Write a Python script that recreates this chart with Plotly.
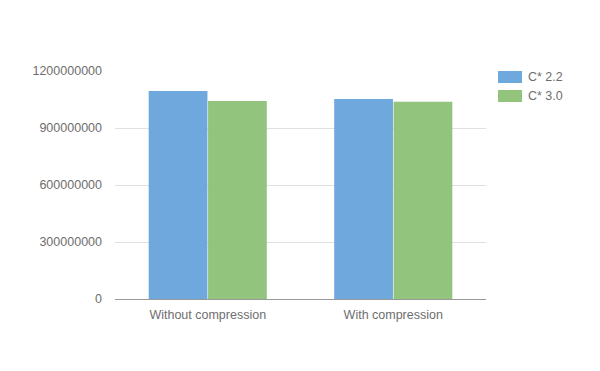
import plotly.graph_objects as go

categories = ["Without compression", "With compression"]
series_names = ["C* 2.2", "C* 3.0"]
c22 = [1095000000, 1053000000]
c30 = [1042000000, 1038000000]
colors = ["#6fa8dc", "#93c47d"]
ytick_vals = [0, 300000000, 600000000, 900000000, 1200000000]

fig = go.Figure()
for name, vals, col in zip(series_names, [c22, c30], colors):
    fig.add_trace(go.Bar(x=categories, y=vals, name=name, showlegend=False,
                         marker=dict(color=col, line=dict(width=0))))

# custom legend with wide swatches
for i, (name, col) in enumerate(zip(series_names, colors)):
    y0 = 71 + i * 19
    fig.add_shape(type="rect", xref="paper", yref="paper",
                  x0=(498 - 115) / 371, x1=(522 - 115) / 371,
                  y0=(299 - (y0 + 12)) / 228, y1=(299 - y0) / 228,
                  fillcolor=col, line=dict(width=0))
    fig.add_annotation(xref="paper", yref="paper", x=(526 - 115) / 371, y=(299 - (y0 + 6)) / 228,
                       text=name, showarrow=False, xanchor="left", yanchor="middle",
                       font=dict(size=12.5, color="#6e6e6e"))

fig.update_layout(
    width=600, height=371,
    margin=dict(l=115, r=114, t=71, b=72),
    paper_bgcolor="white", plot_bgcolor="white",
    barmode="group", bargap=0.36, bargroupgap=0.01,
    font=dict(family="Liberation Sans, Arial", size=12.5, color="#6e6e6e"),
    xaxis=dict(showline=True, linecolor="#999999", linewidth=1, ticks="", showgrid=False,
               ticklabelstandoff=4),
    yaxis=dict(range=[0, 1200000000], tickvals=ytick_vals,
               ticktext=[str(v) for v in ytick_vals],
               showgrid=True, gridcolor="#e0e0e0", zeroline=False, showline=False,
               ticks="", ticklabelstandoff=12),
)
fig.write_html("out.html")
